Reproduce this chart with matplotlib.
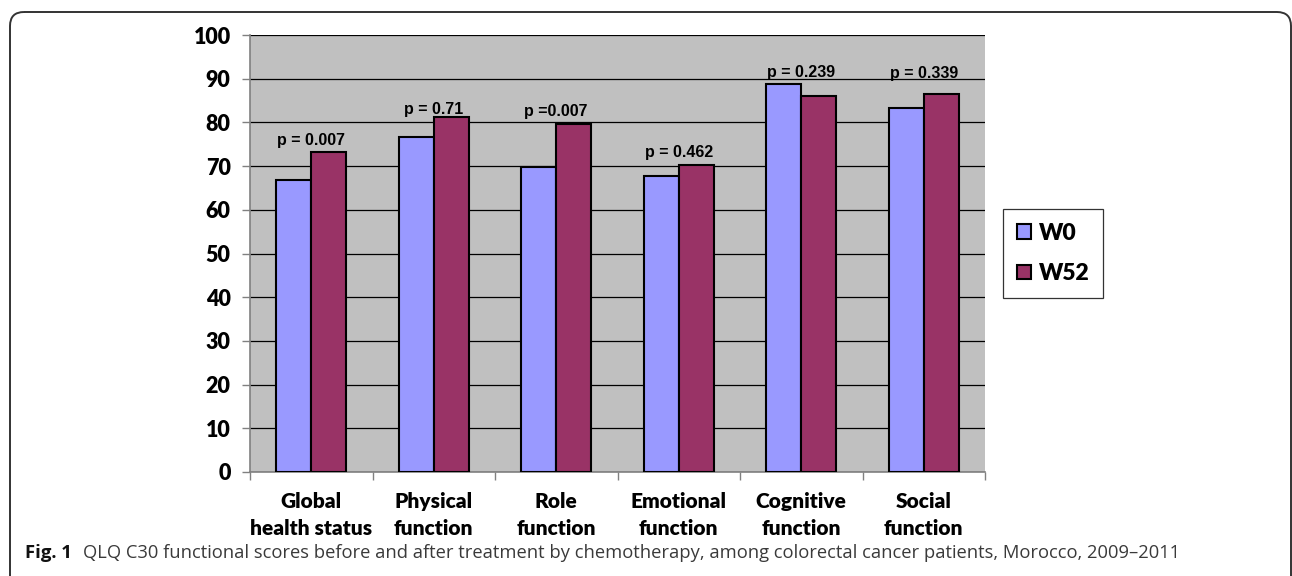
import numpy as np
import matplotlib
matplotlib.use('Agg')
import matplotlib.pyplot as plt
from matplotlib.patches import FancyBboxPatch

# data
categories = ['Global\nhealth status', 'Physical\nfunction', 'Role\nfunction',
              'Emotional\nfunction', 'Cognitive\nfunction', 'Social\nfunction']
w0 = [66.8, 76.6, 69.9, 67.8, 88.7, 83.3]
w52 = [73.3, 81.3, 79.6, 70.3, 86.0, 86.6]
p_labels = ['p = 0.007', 'p = 0.71', 'p =0.007', 'p = 0.462', 'p = 0.239', 'p = 0.339']
y_ticks = list(range(0, 101, 10))

fig = plt.figure(figsize=(12.92, 5.76), dpi=100)

# outer rounded frame, drawn in pixel units on a background axes
bg = fig.add_axes([0, 0, 1, 1])
bg.set_xlim(0, 1292)
bg.set_ylim(576, 0)
bg.axis('off')
bg.add_patch(FancyBboxPatch((10, 12), 1281, 600, boxstyle='round,pad=0,rounding_size=14',
                            fill=False, edgecolor='#333333', linewidth=1.4))

ax = fig.add_axes([250/1292, 1 - 472/576, 735/1292, 437/576])
ax.set_facecolor('#C0C0C0')

x = np.arange(len(categories))
bw = 1 / 3.5
ax.bar(x - bw/2, w0, bw, color='#9999FF', edgecolor='black', linewidth=1.5, label='W0', zorder=3)
ax.bar(x + bw/2, w52, bw, color='#993366', edgecolor='black', linewidth=1.5, label='W52', zorder=3)

# p-value labels (text boxes placed above each pair)
label_y = [75.8, 83.0, 82.4, 73.0, 91.4, 91.2]
for xi, t, yy in zip(x, p_labels, label_y):
    ax.text(xi, yy, t, ha='center', va='center',
            fontsize=11.5, fontweight='bold', family='Liberation Sans', zorder=4)

ax.set_xlim(-0.5, len(categories) - 0.5)
ax.set_ylim(0, 100)
ax.set_yticks(y_ticks)
ax.yaxis.grid(True, color='black', linewidth=0.9)
ax.set_axisbelow(True)
ax.tick_params(axis='y', length=6, width=1, color='#808080', pad=8,
               labelsize=15.5)
for lab in ax.get_yticklabels():
    lab.set_fontweight('heavy')
    lab.set_family('Lato')

ax.set_xticks(x)
ax.set_xticklabels(categories, fontsize=15, fontweight='heavy', family='Lato',
                   linespacing=1.5)
ax.tick_params(axis='x', length=0, pad=14.5)
ax.set_xticks(np.arange(len(categories) + 1) - 0.5, minor=True)
ax.tick_params(axis='x', which='minor', length=6, width=1, color='#808080')

for s in ['top', 'right']:
    ax.spines[s].set_visible(False)
for s in ['left', 'bottom']:
    ax.spines[s].set_color('#808080')
    ax.spines[s].set_linewidth(1.2)

leg = ax.legend(loc='upper left', bbox_to_anchor=(1003/1292, 1 - 209/576),
                bbox_transform=fig.transFigure, fancybox=False, frameon=True,
                edgecolor='black', prop={'family': 'Lato', 'weight': 'heavy', 'size': 16.5},
                handlelength=0.6, handleheight=0.6, handletextpad=0.35,
                labelspacing=0.85, borderpad=0.6, borderaxespad=0)
leg.get_frame().set_linewidth(0.9)

fig.text(25/1292, 1 - 553/576, 'Fig. 1', fontsize=13.3, fontweight='bold',
         family='Open Sans', va='center', ha='left', color='#111111')
fig.text(83/1292, 1 - 553/576,
         'QLQ C30 functional scores before and after treatment by chemotherapy, among colorectal cancer patients, Morocco, 2009\u20132011',
         fontsize=13.2, family='Open Sans', va='center', ha='left', color='#3a3a3a')

fig.savefig('out.png', dpi=100)
